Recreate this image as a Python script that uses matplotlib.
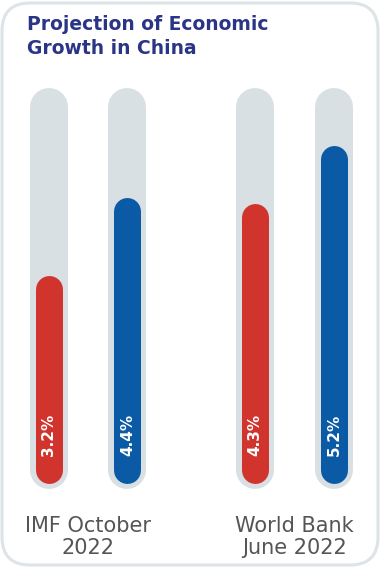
import matplotlib
matplotlib.use("Agg")
from matplotlib import pyplot as plt
from matplotlib.patches import FancyBboxPatch

# Data
sources = ["IMF October\n2022", "World Bank\nJune 2022"]
red_values = [3.2, 4.3]
blue_values = [4.4, 5.2]
y_max = 6.0

red = "#d1342c"
blue = "#0b5aa5"
track = "#d9e0e3"
navy = "#2b3585"
font = "DejaVu Sans"

W, H, DPI = 380, 568, 100
fig = plt.figure(figsize=(W / DPI, H / DPI), dpi=DPI)

# rounded frame
bg = fig.add_axes([0, 0, 1, 1])
bg.set_xlim(0, W)
bg.set_ylim(0, H)
bg.axis("off")
bg.add_patch(FancyBboxPatch((2, 3), W - 4, H - 6,
                            boxstyle="round,pad=0,rounding_size=28",
                            fc="white", ec="#dde3e6", lw=2.2))

# chart axes
ax = fig.add_axes([5.4 / W, (H - 492.75) / H, 371.7 / W, 409.5 / H])
ax.set_xlim(-0.4, 1.4)
ax.set_ylim(-0.15, 6.15)
ax.axis("off")
ax.patch.set_alpha(0)

# pixel sizes -> data units
px_per_unit = ax.transData.transform((0, 1))[1] - ax.transData.transform((0, 0))[1]
track_w, bar_w, pad = 38, 27, 5.5
def pts(px):
    return px * 72 / DPI

offset = 0.191
for i, src in enumerate(sources):
    for dx, val, col in [(-offset, red_values[i], red), (offset, blue_values[i], blue)]:
        x = i + dx
        # background track
        r_t = (track_w / 2) / px_per_unit
        p = pad / px_per_unit
        ax.plot([x, x], [-p + r_t, y_max + p - r_t], color=track, lw=pts(track_w),
                solid_capstyle="round")
        # value bar
        r_b = (bar_w / 2) / px_per_unit
        ax.plot([x, x], [r_b, val - r_b], color=col, lw=pts(bar_w),
                solid_capstyle="round")
        ax.text(x, 0.74, f"{val:.1f}%", rotation=90, ha="center", va="center",
                color="white", fontsize=11, fontweight="bold", family=font)
    ax.text(i, -0.51, src, ha="center", va="top", fontsize=15, color="#555555",
            family=font, linespacing=1.13, clip_on=False)

fig.text(27 / W, 1 - 15 / H, "Projection of Economic\nGrowth in China",
         ha="left", va="top", fontsize=13.5, fontweight="bold", color=navy,
         family=font, linespacing=1.35)

fig.savefig("out.png", dpi=DPI)
